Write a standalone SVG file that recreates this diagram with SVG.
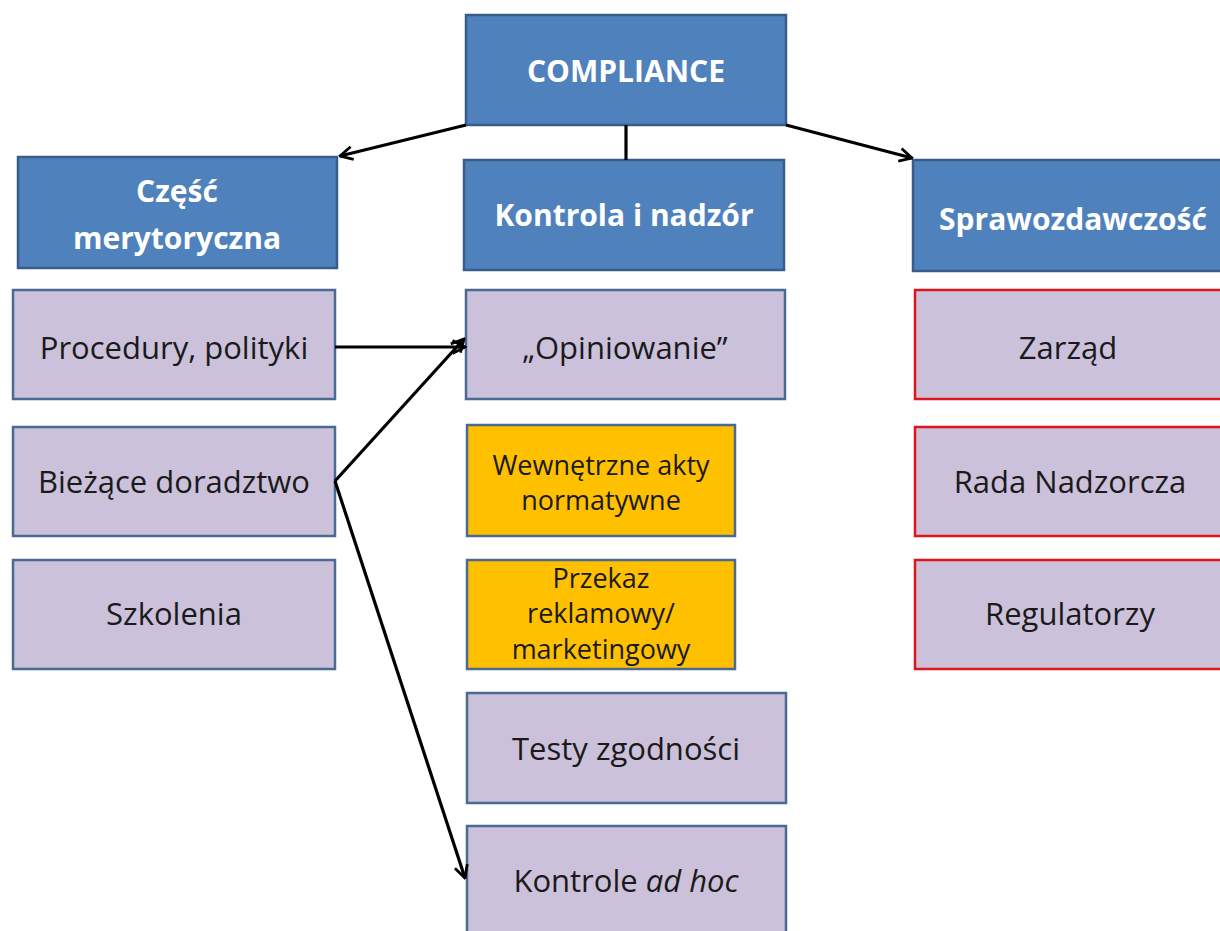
<svg xmlns="http://www.w3.org/2000/svg" width="1220" height="931" viewBox="0 0 1220 931">
<defs>
<marker id="ah" viewBox="0 0 16 16" refX="14.5" refY="8" markerWidth="16" markerHeight="16" markerUnits="userSpaceOnUse" orient="auto">
<path d="M2,1.5 L14.5,8 L2,14.5" fill="none" stroke="#000" stroke-width="2.8"/>
</marker>
<style>
.hd rect{fill:#4F81BD;stroke:#385D8A;stroke-width:2.5}
.hd text{fill:#fff;font-family:"Open Sans","Liberation Sans",sans-serif;font-weight:bold;font-size:30px;text-anchor:middle;dominant-baseline:central}
.lv rect{fill:#CCC1DA;stroke:#4A6A94;stroke-width:2.5}
.rd rect{fill:#CCC1DA;stroke:#E0151B;stroke-width:2.5}
.or rect{fill:#FFC000;stroke:#4A6A94;stroke-width:2.5}
.lv text,.rd text{fill:#1a1a1a;font-family:"Open Sans","Liberation Sans",sans-serif;font-size:31px;text-anchor:middle;dominant-baseline:central}
.or text{fill:#1a1a1a;font-family:"Open Sans","Liberation Sans",sans-serif;font-size:27px;text-anchor:middle;dominant-baseline:central}
.cn line{stroke:#000;stroke-width:3.2}
</style>
</defs>
<rect width="1220" height="931" fill="#fff"/>
<g id="compliance" class="hd"><rect x="466" y="15" width="320" height="110"/><text x="626" y="70">COMPLIANCE</text></g>
<g id="czesc" class="hd"><rect x="18" y="157" width="319" height="111"/><text x="177" y="190">Część</text><text x="177" y="237">merytoryczna</text></g>
<g id="kontrola" class="hd"><rect x="464" y="160" width="320" height="110"/><text x="624" y="214">Kontrola i nadzór</text></g>
<g id="sprawozdawczosc" class="hd"><rect x="913" y="160" width="320" height="111"/><text x="1073" y="218">Sprawozdawczość</text></g>
<g id="procedury" class="lv"><rect x="13" y="290" width="322" height="109"/><text x="174" y="347">Procedury, polityki</text></g>
<g id="opiniowanie" class="lv"><rect x="466" y="290" width="319" height="109"/><text x="625" y="347">„Opiniowanie”</text></g>
<g id="zarzad" class="rd"><rect x="915" y="290" width="320" height="109"/><text x="1068" y="347">Zarząd</text></g>
<g id="biezace" class="lv"><rect x="13" y="427" width="322" height="109"/><text x="174" y="481">Bieżące doradztwo</text></g>
<g id="wewnetrzne" class="or"><rect x="467" y="425" width="268" height="111"/><text x="601" y="464">Wewnętrzne akty</text><text x="601" y="499">normatywne</text></g>
<g id="rada" class="rd"><rect x="915" y="427" width="320" height="109"/><text x="1070" y="481">Rada Nadzorcza</text></g>
<g id="szkolenia" class="lv"><rect x="13" y="560" width="322" height="109"/><text x="174" y="613">Szkolenia</text></g>
<g id="przekaz" class="or"><rect x="467" y="560" width="268" height="109"/><text x="601" y="577">Przekaz</text><text x="601" y="612">reklamowy/</text><text x="601" y="648">marketingowy</text></g>
<g id="regulatorzy" class="rd"><rect x="915" y="560" width="320" height="109"/><text x="1070" y="613">Regulatorzy</text></g>
<g id="testy" class="lv"><rect x="467" y="693" width="319" height="110"/><text x="626" y="748">Testy zgodności</text></g>
<g id="kontrole" class="lv"><rect x="467" y="826" width="319" height="120"/><text x="626" y="880">Kontrole <tspan font-style="italic">ad hoc</tspan></text></g>
<g id="connectors" class="cn">
<line x1="466" y1="125" x2="340" y2="156" marker-end="url(#ah)"/>
<line x1="626" y1="125" x2="626" y2="160"/>
<line x1="786" y1="125" x2="912" y2="158" marker-end="url(#ah)"/>
<line x1="335" y1="347" x2="465" y2="347" marker-end="url(#ah)"/>
<line x1="335" y1="481" x2="464" y2="339" marker-end="url(#ah)"/>
<line x1="335" y1="481" x2="465" y2="878" marker-end="url(#ah)"/>
</g>
</svg>
